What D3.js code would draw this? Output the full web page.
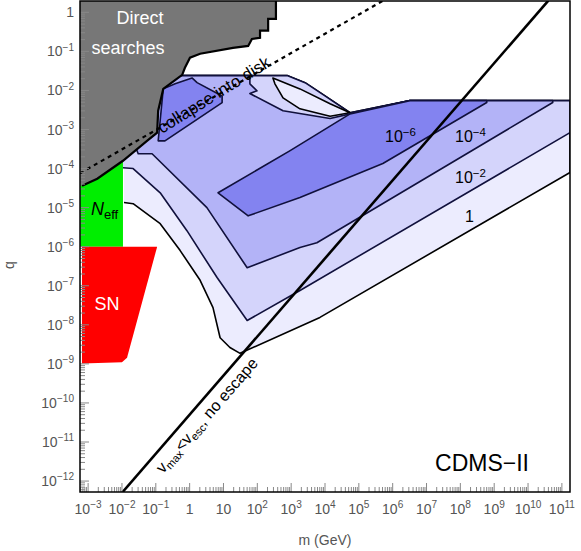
<!DOCTYPE html>
<html>
<head>
<meta charset="utf-8">
<script src="https://cdn.jsdelivr.net/npm/d3@7"></script>
<style>
  body { margin: 0; background: #fff; }
  text { font-family: "Liberation Sans", Arial, sans-serif; }
</style>
</head>
<body>
<svg id="chart" width="581" height="551"></svg>
<script>
// all regions as [log10 m, log10 q]
var directSearch = [[-3.24,0.29],[2.55,0.29],[2.55,-0.17],[2.32,-0.17],[2.32,-0.47],[2.08,-0.47],[2.08,-0.65],[1.84,-0.68],[1.73,-0.86],[1.28,-0.91],[0.31,-1.06],[0.01,-1.16],[-0.14,-1.42],[-0.22,-1.60],[-0.78,-1.96],[-0.93,-2.52],[-0.96,-3.08],[-1.26,-3.29],[-1.97,-3.80],[-2.73,-4.26],[-3.18,-4.44],[-3.24,-4.44]];
var neff = [[-3.24,-6.0],[-1.97,-6.0],[-1.97,-3.6],[-3.24,-3.6]];
var sn = [[-3.18,-6.0],[-0.96,-6.0],[-1.85,-8.84],[-2.0,-8.96],[-3.18,-8.99]];

var level1 = [[-1.94,-4.87],[-1.67,-4.90],[-0.87,-5.41],[-0.28,-6.10],[0.31,-6.86],[0.69,-7.56],[0.90,-8.33],[1.19,-8.58],[1.49,-8.73],[3.85,-7.81],[11.24,-4.10],[11.24,-2.26],[6.51,-2.26],[4.74,-2.57],[4.00,-2.14],[3.41,-1.80],[2.88,-1.62],[-0.87,-1.62],[-1.94,-3.80]];
var level2 = [[-1.97,-3.98],[-1.67,-4.0],[-0.87,-4.62],[-0.08,-5.59],[0.81,-6.79],[1.70,-7.89],[3.26,-7.12],[11.24,-3.08],[11.24,-2.26],[6.51,-2.26],[4.74,-2.57],[4.00,-2.14],[3.41,-1.80],[2.88,-1.62],[-0.87,-1.62],[-1.97,-3.6]];
var lens = [[2.46,-1.68],[3.26,-1.96],[4.15,-2.34],[4.74,-2.57],[4.15,-2.66],[3.26,-2.47],[2.76,-2.19],[2.52,-1.83]];
var level4 = [[-1.61,-3.42],[-1.52,-3.62],[-1.11,-3.62],[0.51,-5.00],[1.70,-6.54],[3.26,-6.02],[3.76,-5.90],[10.73,-2.31],[10.73,-2.26],[6.51,-2.26],[4.74,-2.60],[4.15,-2.72],[2.76,-2.52],[1.78,-2.08],[1.99,-2.01],[1.78,-1.83],[1.78,-1.62],[-0.58,-1.62]];
var level6 = [[0.84,-4.62],[2.97,-3.54],[4.74,-2.60],[6.51,-2.26],[8.78,-2.26],[8.78,-2.31],[5.71,-3.87],[3.26,-4.74],[1.73,-5.21]];
var level6b = [[-0.93,-3.29],[-0.78,-1.96],[-0.43,-1.83],[0.07,-1.68],[0.22,-1.80],[0.96,-2.14],[0.96,-2.31],[-0.73,-3.29]];

var collapseLine = [[-3.24,-4.12],[5.7,0.29]];
var escapeLine = [[-2.0,-12.3],[10.6,0.3]];

var xTicks = [-3,-2,-1,0,1,2,3,4,5,6,7,8,9,10,11];
var yTicks = [0,-1,-2,-3,-4,-5,-6,-7,-8,-9,-10,-11,-12];

var L = 80, R = 570, T = 1, B = 492;
var svg = d3.select("#chart");
var x = d3.scaleLog().domain([Math.pow(10,-3.24), Math.pow(10,11.24)]).range([L, R]);
var y = d3.scaleLog().domain([Math.pow(10,-12.28), Math.pow(10,0.29)]).range([B, T]);
var px = p => [x(Math.pow(10,p[0])), y(Math.pow(10,p[1]))];
var line = d3.line().x(p => px(p)[0]).y(p => px(p)[1]);

svg.append("clipPath").attr("id","clip").append("rect")
  .attr("x",L).attr("y",T).attr("width",R-L).attr("height",B-T);
var g = svg.append("g").attr("clip-path","url(#clip)");

function region(pts, fill, stroke, closed) {
  g.append("path").attr("d", line(pts) + "Z").attr("fill", fill).attr("stroke", "none");
  if (stroke) g.append("path").attr("d", line(pts) + (closed ? "Z" : ""))
    .attr("fill","none").attr("stroke",stroke).attr("stroke-width",1.6).attr("stroke-linejoin","round");
}
region(level1, "#ececfe", "#000", false);
region(level2, "#d4d4fb", "#10103c", false);
region(lens, "#ececfe", "#000", true);
region(level4, "#b3b3f7", "#10103c", false);
region(level6, "#8383f0", "#10103c", true);
region(level6b, "#8383f0", "#10103c", true);
region(neff, "#00ee00", null);
region(sn, "#ff0000", null);
region(directSearch, "#777777", null);
// gray boundary
g.append("path").attr("d", line(directSearch.slice(1, directSearch.length - 1)))
  .attr("fill","none").attr("stroke","#000").attr("stroke-width",2.2);

g.append("path").attr("d", line(collapseLine)).attr("fill","none")
  .attr("stroke","#000").attr("stroke-width",2.2).attr("stroke-dasharray","4,4");
g.append("path").attr("d", line(escapeLine)).attr("fill","none")
  .attr("stroke","#000").attr("stroke-width",2.6);

// texts
svg.append("text").attr("x",140).attr("y",24).attr("text-anchor","middle").attr("fill","#fff").attr("font-size",18).text("Direct");
svg.append("text").attr("x",128).attr("y",54).attr("text-anchor","middle").attr("fill","#fff").attr("font-size",18).text("searches");
var ne = svg.append("text").attr("x",91).attr("y",215).attr("font-size",18).attr("fill","#000");
ne.append("tspan").attr("font-style","italic").text("N");
ne.append("tspan").attr("font-size",13).attr("dy",4).text("eff");
svg.append("text").attr("x",107).attr("y",310).attr("text-anchor","middle").attr("fill","#fff").attr("font-size",18).text("SN");
svg.append("text").attr("x",482).attr("y",471).attr("text-anchor","middle").attr("font-size",23).text("CDMS\u2212II");

function sup(sel, base, exp, fs) {
  sel.append("tspan").text(base);
  if (exp !== null) sel.append("tspan").attr("font-size", fs * 0.72).attr("dy", -fs * 0.4).text(exp);
}
[["10","\u22126",385,142],["10","\u22124",455,142],["10","\u22122",455,183],["1",null,465,222]].forEach(d => {
  var t = svg.append("text").attr("x",d[2]).attr("y",d[3]).attr("font-size",16);
  sup(t, d[0], d[1], 16);
});

var ct = svg.append("text").attr("transform","translate(162,134) rotate(-32)").attr("font-size",17);
ct.text("collapse into disk");
var et = svg.append("text").attr("transform","translate(163,474) rotate(-49)").attr("font-size",16);
et.append("tspan").text("v");
et.append("tspan").attr("font-size",11).attr("dy",3).text("max");
et.append("tspan").attr("dy",-3).text("<v");
et.append("tspan").attr("font-size",11).attr("dy",3).text("esc");
et.append("tspan").attr("dy",-3).text(", no escape");

// axes ticks
var ax = svg.append("g").attr("stroke","#888").attr("stroke-width",1);
xTicks.concat([-4]).forEach(k => {
  for (var j = 1; j < 10; j++) {
    var v = j * Math.pow(10, k), xx = x(v);
    if (xx < L || xx > R) continue;
    var len = j === 1 ? 9 : 5;
    ax.append("line").attr("x1",xx).attr("x2",xx).attr("y1",B).attr("y2",B-len);
  }
});
yTicks.concat([-13]).forEach(k => {
  for (var j = 1; j < 10; j++) {
    var v = j * Math.pow(10, k), yy = y(v);
    if (yy < T || yy > B) continue;
    var len = j === 1 ? 9 : 5;
    ax.append("line").attr("x1",L).attr("x2",L+len).attr("y1",yy).attr("y2",yy);
  }
});
svg.append("rect").attr("x",L).attr("y",T).attr("width",R-L).attr("height",B-T)
  .attr("fill","none").attr("stroke","#000").attr("stroke-width",1.5);

xTicks.forEach(k => {
  var t = svg.append("text").attr("x", x(Math.pow(10,k))).attr("y",514).attr("text-anchor","middle")
    .attr("font-size",14).attr("fill","#555");
  if (k === 0) sup(t, "1", null, 14);
  else if (k === 1) sup(t, "10", null, 14);
  else sup(t, "10", k < 0 ? "\u2212" + (-k) : String(k), 14);
});
yTicks.forEach(k => {
  var t = svg.append("text").attr("x",74).attr("y", y(Math.pow(10,k)) + 5).attr("text-anchor","end")
    .attr("font-size",14).attr("fill","#555");
  if (k === 0) sup(t, "1", null, 14);
  else sup(t, "10", "\u2212" + (-k), 14);
});
svg.append("text").attr("x",325).attr("y",545).attr("text-anchor","middle").attr("font-size",14).attr("fill","#555").text("m (GeV)");
svg.append("text").attr("transform","translate(14,265) rotate(-90)").attr("text-anchor","middle").attr("font-size",14).attr("fill","#555").text("q");
</script>
</body>
</html>
